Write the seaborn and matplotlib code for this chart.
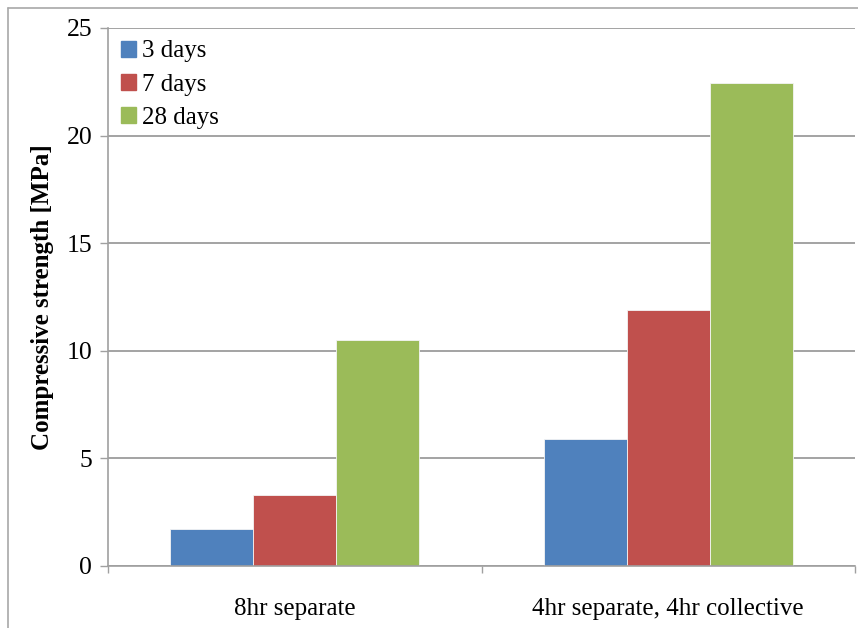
import matplotlib
matplotlib.use("Agg")
import matplotlib.pyplot as plt
import seaborn as sns
import pandas as pd
from matplotlib.patches import Rectangle
from matplotlib.lines import Line2D

# Curing schemes and compressive strength by age
schemes = ["8hr separate", "4hr separate, 4hr collective"]
ages = ["3 days", "7 days", "28 days"]
strength_3d = [1.72, 5.92]
strength_7d = [3.28, 11.9]
strength_28d = [10.5, 22.43]
colors = ["#4F81BD", "#C0504D", "#9BBB59"]
yticks = [0, 5, 10, 15, 20, 25]

rows = []
for age, vals in zip(ages, [strength_3d, strength_7d, strength_28d]):
    for s, v in zip(schemes, vals):
        rows.append({"scheme": s, "age": age, "strength": v})
df = pd.DataFrame(rows)

sns.set_style("white")
plt.rcParams["font.family"] = ["Liberation Serif", "DejaVu Serif"]
plt.rcParams["text.color"] = "black"
plt.rcParams["axes.labelcolor"] = "black"
plt.rcParams["xtick.color"] = "black"
plt.rcParams["ytick.color"] = "black"

fig = plt.figure(figsize=(8.58, 6.28), dpi=100)
ax = fig.add_axes([108 / 858, 1 - 566 / 628, (855 - 108) / 858, (566 - 28) / 628])

sns.barplot(data=df, x="scheme", y="strength", hue="age", order=schemes,
            hue_order=ages, palette=colors, width=2 / 3, linewidth=0.6,
            edgecolor="#f4f4f4", saturation=1, ax=ax, zorder=3)

ax.set_xlim(-0.5, 1.5)
ax.set_ylim(0, 25)
ax.set_yticks(yticks)
ax.set_yticklabels([str(t) for t in yticks], fontsize=18.5)
ax.yaxis.grid(True, color="#8a8a8a", linewidth=1.1, zorder=0)
ax.set_axisbelow(True)

# category separators on the x axis
ax.set_xticks([-0.5, 0.5, 1.5], minor=True)
ax.set_xticks([0, 1])
ax.set_xticklabels(schemes, fontsize=18)
ax.tick_params(axis="x", which="major", bottom=False, length=0, pad=23)
ax.tick_params(axis="x", which="minor", bottom=True, length=5, width=1,
               color="#a0a0a0", direction="out")
ax.tick_params(axis="y", left=True, length=5.8, width=1, color="#a0a0a0",
               labelcolor="black", direction="out", pad=5.5)

for side in ["top", "right"]:
    ax.spines[side].set_visible(False)
for side in ["left", "bottom"]:
    ax.spines[side].set_color("#a0a0a0")
    ax.spines[side].set_linewidth(1.2)
    ax.spines[side].set_zorder(4)

ax.set_xlabel("")
ax.set_ylabel("Compressive strength [MPa]", fontsize=18, fontweight="bold",
              labelpad=9)

handles = [Rectangle((0, 0), 1, 1, color=c) for c in colors]
ax.legend(handles, ages, loc="upper left", bbox_to_anchor=(0.0, 1.0),
          frameon=False, fontsize=18, handlelength=0.6, handleheight=0.6,
          handletextpad=0.25, labelspacing=0.45, borderaxespad=0.2,
          borderpad=0.3)

# chart area border
fig.add_artist(Line2D([8 / 858, 8 / 858], [0, 1 - 8 / 628],
                      transform=fig.transFigure, color="#a8a8a8", lw=1.2))
fig.add_artist(Line2D([8 / 858, 1], [1 - 8 / 628, 1 - 8 / 628],
                      transform=fig.transFigure, color="#a8a8a8", lw=1.2))

fig.savefig("out.png", dpi=100)
